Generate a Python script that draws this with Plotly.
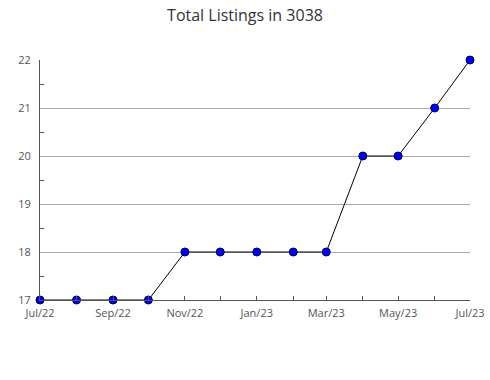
import plotly.graph_objects as go

months = ["2022-07-01", "2022-08-01", "2022-09-01", "2022-10-01", "2022-11-01", "2022-12-01",
          "2023-01-01", "2023-02-01", "2023-03-01", "2023-04-01", "2023-05-01", "2023-06-01", "2023-07-01"]
listings = [17, 17, 17, 17, 18, 18, 18, 18, 18, 20, 20, 21, 22]
tick_vals = ["2022-07-01", "2022-09-01", "2022-11-01", "2023-01-01", "2023-03-01", "2023-05-01", "2023-07-01"]
tick_text = ["Jul/22", "Sep/22", "Nov/22", "Jan/23", "Mar/23", "May/23", "Jul/23"]

fig = go.Figure()
fig.add_trace(go.Scatter(
    x=months, y=listings, mode="lines+markers",
    line=dict(color="black", width=1),
    marker=dict(symbol="circle", size=8, color="#0000ff", line=dict(color="#000044", width=1)),
    cliponaxis=False,
))

fig.update_layout(
    width=490, height=380,
    margin=dict(l=40, r=20, t=60, b=80, autoexpand=False),
    paper_bgcolor="white", plot_bgcolor="white",
    font=dict(family="Open Sans", size=11, color="#555555"),
    title=dict(text="Total Listings in 3038", x=0.5, xanchor="center", y=0.975, yanchor="top",
               font=dict(family="Open Sans", size=16, color="#333333")),
    showlegend=False,
)
fig.update_xaxes(
    type="date", range=["2022-07-01", "2023-07-01"], automargin=False,
    tickvals=tick_vals, ticktext=tick_text, ticklabelstandoff=3,
    ticks="inside", ticklen=4, tickcolor="#555555",
    showline=True, linecolor="#555555", linewidth=1,
    showgrid=False, zeroline=False,
    minor=dict(dtick="M1", ticks="inside", ticklen=4, tickcolor="#555555", showgrid=False),
)
fig.update_yaxes(
    range=[17, 22], dtick=1, automargin=False, ticklabelstandoff=6,
    ticks="", showline=True, linecolor="#555555", linewidth=1,
    showgrid=True, gridcolor="#aaaaaa", gridwidth=1, zeroline=False,
    minor=dict(dtick=0.5, ticks="inside", ticklen=4, tickcolor="#555555", showgrid=False),
)

fig.write_html("out.html")
